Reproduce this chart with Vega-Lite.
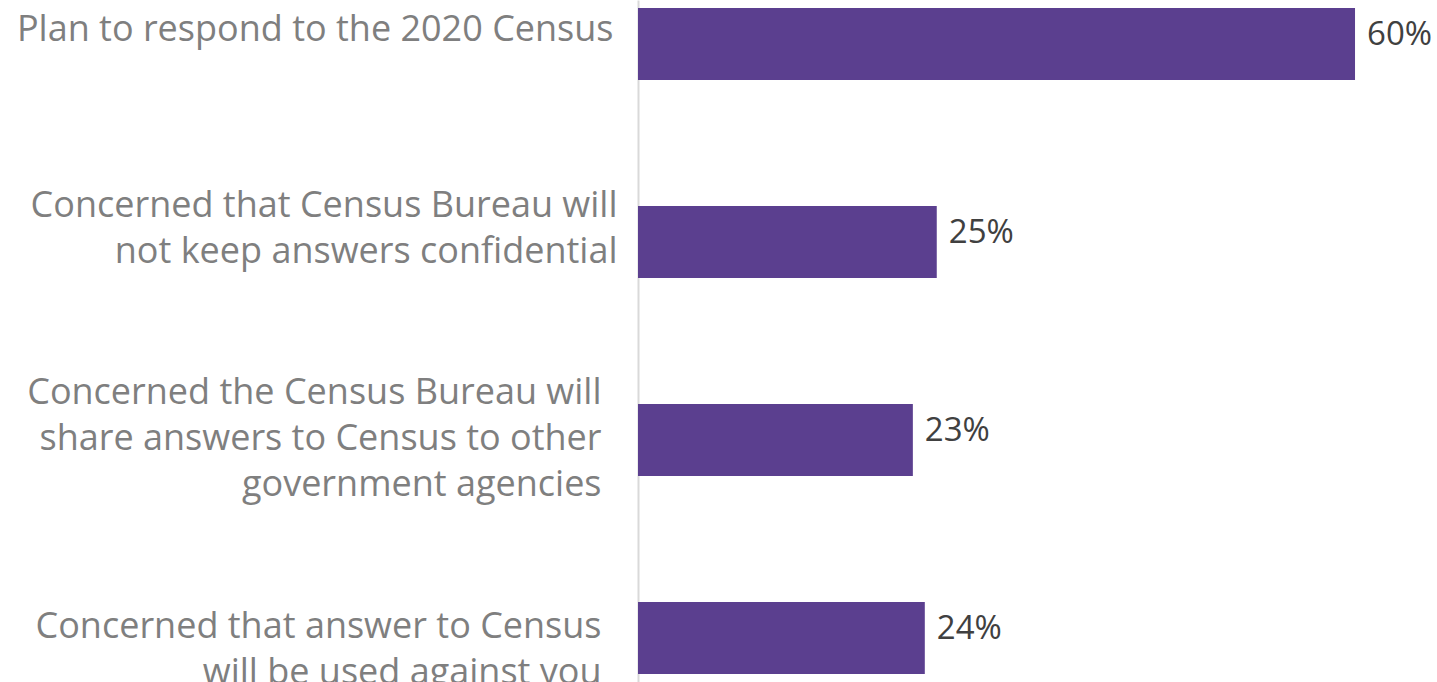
{
  "$schema": "https://vega.github.io/schema/vega-lite/v6.json",
  "autosize": "none",
  "width": 799,
  "height": 682,
  "padding": {"left": 638, "top": 0, "right": 0, "bottom": 0},
  "background": "white",
  "config": {"view": {"stroke": null}},
  "data": {
    "values": [
      {"label": "Plan to respond to the 2020 Census", "value": 0.60},
      {"label": "Concerned that Census Bureau will|not keep answers confidential", "value": 0.25},
      {"label": "Concerned the Census Bureau will|share answers to Census to other|government agencies", "value": 0.23},
      {"label": "Concerned that answer to Census|will be used against you", "value": 0.24}
    ]
  },
  "encoding": {
    "y": {
      "field": "label",
      "type": "nominal",
      "sort": null,
      "scale": {"paddingInner": 0.636, "paddingOuter": 0.04},
      "axis": {
        "title": null,
        "ticks": false,
        "labelExpr": "split(datum.value, '|')",
        "labelFont": "Open Sans",
        "labelFontSize": 36,
        "labelColor": "#7f7f7f",
        "labelLineHeight": 46,
        "labelLimit": 700,
        "domainColor": "#d9d9d9",
        "domainWidth": 2,
        "labelOffset": {
          "condition": [
            {"test": "indexof(datum.value, 'Plan') == 0", "value": -14},
            {"test": "indexof(datum.value, 'not keep') >= 0", "value": -36},
            {"test": "indexof(datum.value, 'share') >= 0", "value": -47}
          ],
          "value": -11
        },
        "labelPadding": {
          "condition": [
            {"test": "indexof(datum.value, 'Plan') == 0", "value": 25},
            {"test": "indexof(datum.value, 'not keep') >= 0", "value": 21}
          ],
          "value": 37
        }
      }
    },
    "x": {
      "field": "value",
      "type": "quantitative",
      "scale": {"domain": [0, 0.6686], "nice": false, "zero": true},
      "axis": null
    }
  },
  "layer": [
    {"mark": {"type": "bar", "color": "#5b3f8f"}},
    {
      "mark": {"type": "text", "align": "left", "dx": 12, "dy": -9, "font": "Open Sans", "fontSize": 33, "color": "#404040", "baseline": "middle"},
      "encoding": {"text": {"field": "value", "type": "quantitative", "format": ".0%"}}
    }
  ]
}
